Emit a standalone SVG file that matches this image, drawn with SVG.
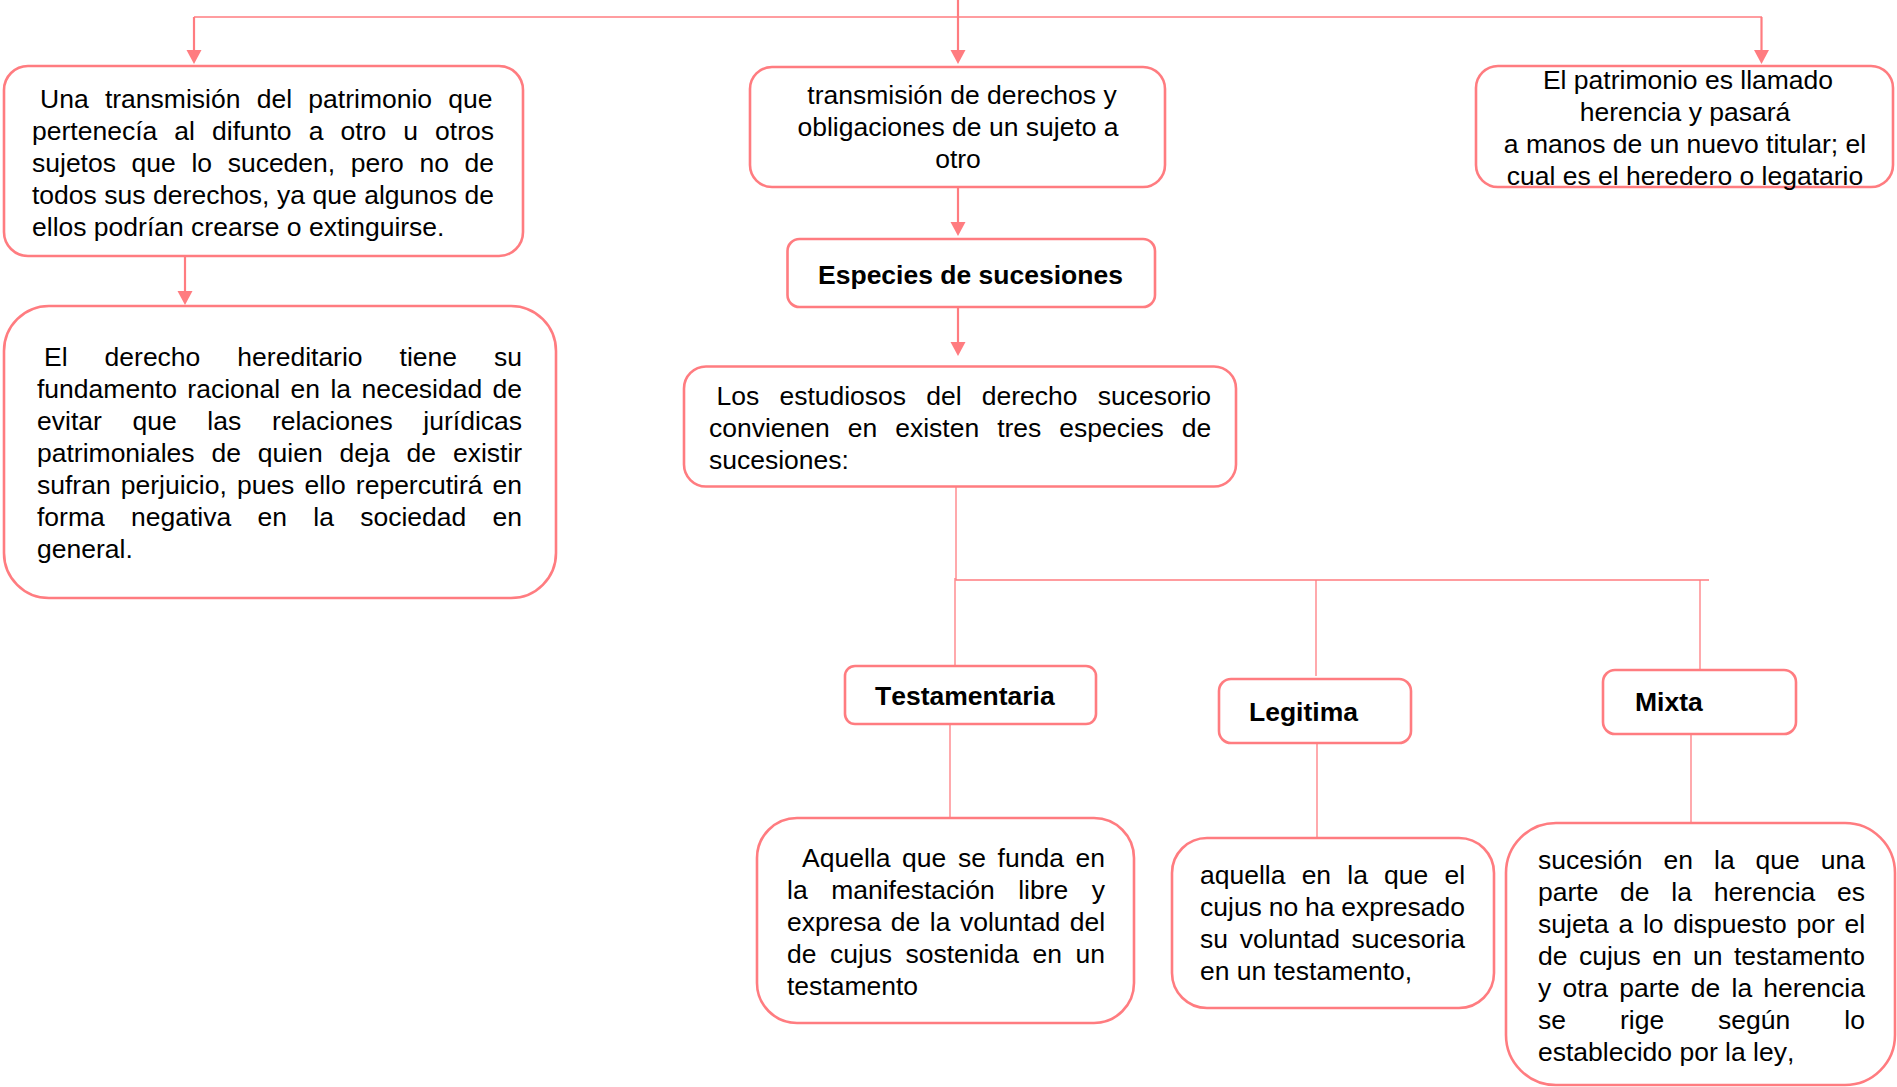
<svg xmlns="http://www.w3.org/2000/svg" width="1897" height="1087" viewBox="0 0 1897 1087">
<style>
.box{fill:#fff;stroke:#FF7C80;stroke-width:2.6}
.t{font-family:"Liberation Sans",Arial,sans-serif;font-size:26.5px;fill:#000;font-kerning:none}
.b{font-weight:bold}
.m{text-anchor:middle}
.arr{fill:none;stroke:#FF7C80;stroke-width:2.2;marker-end:url(#ah)}
.thin{fill:none;stroke:#FF7C80;stroke-width:1.3}
</style>
<defs>
<marker id="ah" markerUnits="userSpaceOnUse" markerWidth="16" markerHeight="16" viewBox="0 0 15 16" refX="10" refY="8" orient="auto">
<path d="M0,0.5 L14,8 L0,15.5 z" fill="#FF7C80"/>
</marker>
</defs>
<rect width="1897" height="1087" fill="#fff"/>
<g id="connectors">
<path class="thin" d="M194,17 H1762"/>
<path class="arr" d="M194,17 V60"/>
<path class="arr" d="M958,0 V60"/>
<path class="arr" d="M1761.5,17 V60"/>
<path class="arr" d="M185,256 V301"/>
<path class="arr" d="M958,187 V232"/>
<path class="arr" d="M958,307 V352"/>
<path class="thin" d="M956,487 V580 H1709"/>
<path class="thin" d="M955,578 V666"/>
<path class="thin" d="M1316,580 V676"/>
<path class="thin" d="M1700,580 V672"/>
<path class="thin" d="M950,724 V818"/>
<path class="thin" d="M1317,743 V838"/>
<path class="thin" d="M1691,734 V823"/>
</g>
<g id="n1">
<rect class="box" x="4" y="66" width="519" height="190" rx="24"/>
<text class="t" x="40" y="108" word-spacing="8.93">Una transmisión del patrimonio que</text>
<text class="t" x="32" y="140" word-spacing="9.73">pertenecía al difunto a otro u otros</text>
<text class="t" x="32" y="172" word-spacing="8.25">sujetos que lo suceden, pero no de</text>
<text class="t" x="32" y="204" word-spacing="0.15">todos sus derechos, ya que algunos de</text>
<text class="t" x="32" y="236">ellos podrían crearse o extinguirse.</text>
</g>
<g id="n2">
<rect class="box" x="4" y="306" width="552" height="292" rx="45"/>
<text class="t" x="44" y="366" word-spacing="29.65">El derecho hereditario tiene su</text>
<text class="t" x="37" y="398" word-spacing="3.02">fundamento racional en la necesidad de</text>
<text class="t" x="37" y="430" word-spacing="23.3">evitar que las relaciones jurídicas</text>
<text class="t" x="37" y="462" word-spacing="9.52">patrimoniales de quien deja de existir</text>
<text class="t" x="37" y="494" word-spacing="2.74">sufran perjuicio, pues ello repercutirá en</text>
<text class="t" x="37" y="526" word-spacing="18.94">forma negativa en la sociedad en</text>
<text class="t" x="37" y="558">general.</text>
</g>
<g id="n3">
<rect class="box" x="750" y="67" width="415" height="120" rx="22"/>
<text class="t m" x="962" y="104">transmisión de derechos y</text>
<text class="t m" x="958" y="136">obligaciones de un sujeto a</text>
<text class="t m" x="958" y="168">otro</text>
</g>
<g id="n4">
<rect class="box" x="787.5" y="239" width="367.5" height="68" rx="12"/>
<text class="t b m" x="970.5" y="283.5">Especies de sucesiones</text>
</g>
<g id="n5">
<rect class="box" x="684" y="366.5" width="552" height="120" rx="22"/>
<text class="t" x="716.5" y="404.5" word-spacing="12.8">Los estudiosos del derecho sucesorio</text>
<text class="t" x="709" y="436.5" word-spacing="10.6">convienen en existen tres especies de</text>
<text class="t" x="709" y="468.5">sucesiones:</text>
</g>
<g id="n6">
<rect class="box" x="1476" y="66" width="417" height="121" rx="22"/>
<text class="t m" x="1688" y="88.5">El patrimonio es llamado</text>
<text class="t m" x="1685" y="120.5">herencia y pasará</text>
<text class="t m" x="1685" y="152.5">a manos de un nuevo titular; el</text>
<text class="t m" x="1685" y="184.5">cual es el heredero o legatario</text>
</g>
<g id="n7">
<rect class="box" x="845" y="666" width="251" height="58" rx="10"/>
<text class="t b" x="875" y="705">Testamentaria</text>
</g>
<g id="n8">
<rect class="box" x="1219" y="679" width="192" height="64" rx="12"/>
<text class="t b" x="1249" y="721">Legitima</text>
</g>
<g id="n9">
<rect class="box" x="1603" y="670" width="193" height="64" rx="12"/>
<text class="t b" x="1635" y="711">Mixta</text>
</g>
<g id="n10">
<rect class="box" x="757" y="818" width="377" height="205" rx="40"/>
<text class="t" x="802" y="867" word-spacing="4.3">Aquella que se funda en</text>
<text class="t" x="787" y="899" word-spacing="16.17">la manifestación libre y</text>
<text class="t" x="787" y="931" word-spacing="2.17">expresa de la voluntad del</text>
<text class="t" x="787" y="963" word-spacing="6.22">de cujus sostenida en un</text>
<text class="t" x="787" y="995">testamento</text>
</g>
<g id="n11">
<rect class="box" x="1172" y="838" width="322" height="170" rx="35"/>
<text class="t" x="1200" y="884" word-spacing="8.8">aquella en la que el</text>
<text class="t" x="1200" y="916" word-spacing="-0.53">cujus no ha expresado</text>
<text class="t" x="1200" y="948" word-spacing="4.35">su voluntad sucesoria</text>
<text class="t" x="1200" y="980">en un testamento,</text>
</g>
<g id="n12">
<rect class="box" x="1506" y="823" width="389" height="262" rx="50"/>
<text class="t" x="1538" y="869" word-spacing="13.6">sucesión en la que una</text>
<text class="t" x="1538" y="901" word-spacing="14.35">parte de la herencia es</text>
<text class="t" x="1538" y="933" word-spacing="2.36">sujeta a lo dispuesto por el</text>
<text class="t" x="1538" y="965" word-spacing="4.05">de cujus en un testamento</text>
<text class="t" x="1538" y="997" word-spacing="3.82">y otra parte de la herencia</text>
<text class="t" x="1538" y="1029" word-spacing="46.6">se rige según lo</text>
<text class="t" x="1538" y="1061">establecido por la ley,</text>
</g>
</svg>
